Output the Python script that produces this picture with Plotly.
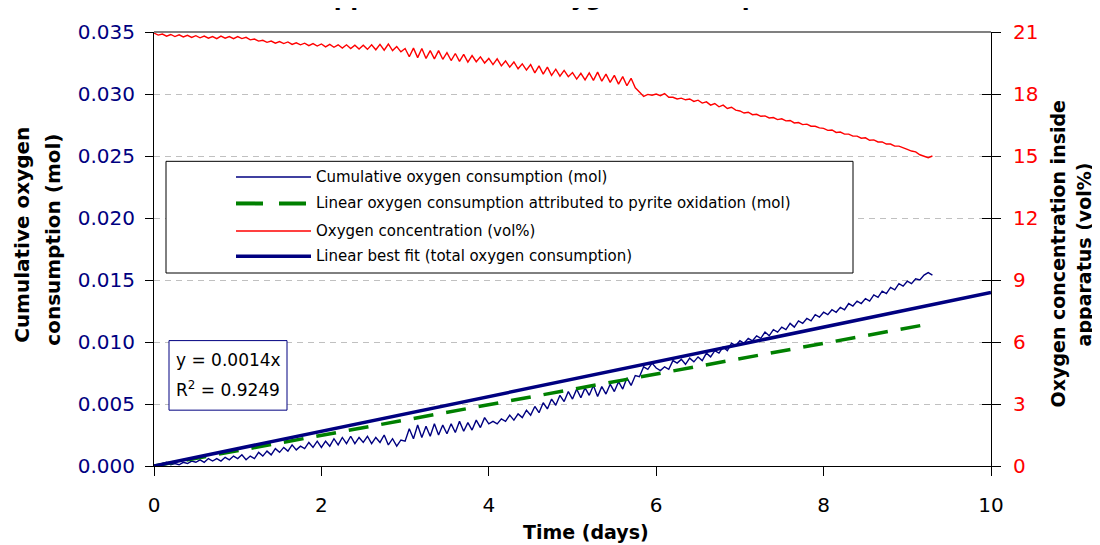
import plotly.graph_objects as go

# ---------------- data ----------------
sample_step_days = 0.05

cum_o2_mol = [
    0.0000, 0.0001, 0.0002, 0.0003, 0.0001, 0.0002, 0.0001, 0.0003, 0.0002, 0.0004,
    0.0003, 0.0005, 0.0003, 0.0006, 0.0004, 0.0006, 0.0004, 0.0007, 0.0005, 0.0008,
    0.0006, 0.0009, 0.0005, 0.0008, 0.0006, 0.0011, 0.0008, 0.0012, 0.0009, 0.0014,
    0.0011, 0.0015, 0.0012, 0.0017, 0.0013, 0.0016, 0.0014, 0.0019, 0.0015, 0.0020,
    0.0015, 0.0020, 0.0016, 0.0022, 0.0017, 0.0023, 0.0018, 0.0024, 0.0018, 0.0023,
    0.0019, 0.0024, 0.0018, 0.0023, 0.0019, 0.0025, 0.0017, 0.0022, 0.0016, 0.0021,
    0.0020, 0.0030, 0.0022, 0.0033, 0.0023, 0.0032, 0.0024, 0.0034, 0.0025, 0.0033,
    0.0026, 0.0034, 0.0027, 0.0036, 0.0028, 0.0035, 0.0029, 0.0037, 0.0031, 0.0039,
    0.0034, 0.0036, 0.0034, 0.0038, 0.0036, 0.0041, 0.0037, 0.0042, 0.0039, 0.0045,
    0.0041, 0.0048, 0.0043, 0.0051, 0.0046, 0.0054, 0.0049, 0.0057, 0.0052, 0.0060,
    0.0054, 0.0062, 0.0055, 0.0063, 0.0057, 0.0065, 0.0056, 0.0064, 0.0058, 0.0066,
    0.0060, 0.0068, 0.0062, 0.0071, 0.0065, 0.0073, 0.0072, 0.0080, 0.0078, 0.0083,
    0.0079, 0.0077, 0.0080, 0.0078, 0.0085, 0.0083, 0.0086, 0.0082, 0.0087, 0.0084,
    0.0088, 0.0085, 0.0091, 0.0088, 0.0093, 0.0091, 0.0096, 0.0093, 0.0099, 0.0097,
    0.0101, 0.0099, 0.0103, 0.0101, 0.0105, 0.0103, 0.0108, 0.0105, 0.0110, 0.0108,
    0.0112, 0.0110, 0.0115, 0.0112, 0.0117, 0.0115, 0.0119, 0.0117, 0.0122, 0.0120,
    0.0124, 0.0122, 0.0126, 0.0124, 0.0128, 0.0126, 0.0131, 0.0129, 0.0133, 0.0131,
    0.0135, 0.0133, 0.0138, 0.0136, 0.0141, 0.0139, 0.0144, 0.0142, 0.0147, 0.0145,
    0.0149, 0.0147, 0.0151, 0.0150, 0.0154, 0.0156, 0.0154,
]

o2_vol_pct = [
    20.95, 20.85, 20.90, 20.80, 20.88, 20.78, 20.86, 20.76, 20.84, 20.74,
    20.82, 20.72, 20.80, 20.70, 20.78, 20.68, 20.80, 20.70, 20.78, 20.68,
    20.78, 20.68, 20.74, 20.62, 20.66, 20.56, 20.60, 20.50, 20.56, 20.46,
    20.54, 20.44, 20.52, 20.40, 20.48, 20.38, 20.46, 20.34, 20.44, 20.32,
    20.42, 20.28, 20.40, 20.26, 20.38, 20.22, 20.38, 20.20, 20.36, 20.18,
    20.36, 20.16, 20.38, 20.14, 20.40, 20.12, 20.42, 20.10, 20.30, 20.04,
    20.20, 19.80, 20.22, 19.76, 20.20, 19.72, 20.10, 19.70, 20.10, 19.68,
    20.00, 19.62, 19.96, 19.58, 19.92, 19.54, 19.86, 19.56, 19.80, 19.50,
    19.72, 19.42, 19.70, 19.36, 19.60, 19.30, 19.55, 19.22, 19.46, 19.16,
    19.42, 19.02, 19.36, 18.96, 19.30, 18.90, 19.20, 18.86, 19.14, 18.84,
    19.04, 18.72, 19.00, 18.68, 19.02, 18.66, 19.06, 18.62, 18.96, 18.56,
    18.90, 18.48, 18.84, 18.40, 18.76, 18.30, 18.10, 17.88, 17.98, 17.94,
    18.00, 17.92, 18.02, 17.84, 17.84, 17.76, 17.80, 17.72, 17.76, 17.64,
    17.70, 17.56, 17.62, 17.46, 17.54, 17.38, 17.46, 17.30, 17.36, 17.22,
    17.18, 17.08, 17.12, 17.00, 17.02, 16.92, 16.94, 16.84, 16.86, 16.76,
    16.80, 16.70, 16.72, 16.60, 16.62, 16.52, 16.54, 16.44, 16.44, 16.36,
    16.34, 16.24, 16.26, 16.14, 16.16, 16.06, 16.06, 15.96, 15.96, 15.86,
    15.88, 15.76, 15.78, 15.68, 15.68, 15.58, 15.58, 15.48, 15.48, 15.38,
    15.32, 15.24, 15.20, 15.06, 15.00, 14.92, 15.00,
]

time_days = [round(i * sample_step_days, 2) for i in range(len(cum_o2_mol))]

pyrite_x = [0.0, 9.26]
pyrite_y = [0.0, 0.01145]

fit_slope = 0.0014
fit_r2 = 0.9249
fit_x = [0.0, 10.0]
fit_y = [fit_slope * v for v in fit_x]

x_ticks = [0, 2, 4, 6, 8, 10]
y_ticks = [0.000, 0.005, 0.010, 0.015, 0.020, 0.025, 0.030, 0.035]
y2_ticks = [0, 3, 6, 9, 12, 15, 18, 21]

series_names = [
    "Cumulative oxygen consumption (mol)",
    "Linear oxygen consumption attributed to pyrite oxidation (mol)",
    "Oxygen concentration (vol%)",
    "Linear best fit (total oxygen consumption)",
]
left_title_lines = ["Cumulative oxygen", "consumption (mol)"]
right_title_lines = ["Oxygen concentration inside", "apparatus (vol%)"]
x_title = "Time (days)"
chart_title = "Apparent rate of oxygen consumption"

NAVY = "#000080"
GREEN = "#008000"
RED = "#FF0000"
FONT = "DejaVu Sans"

# ---------------- layout geometry ----------------
# page pixel positions of the plot area; the page body adds an 8px offset
OFF = 8
W, H = 1100, 545
L, R, T, B = 154 - OFF, 991 - OFF, 23 - OFF, 466 - OFF


def px(X):
    """page x pixel -> paper x"""
    return (X - OFF - L) / (R - L)


def py(Y):
    """page y pixel -> paper y"""
    return (B - (Y - OFF)) / (B - T)


fig = go.Figure()

fig.add_trace(go.Scatter(x=time_days, y=cum_o2_mol, mode="lines", name=series_names[0],
                         line=dict(color=NAVY, width=1.4), showlegend=False))
fig.add_trace(go.Scatter(x=pyrite_x, y=pyrite_y, mode="lines", name=series_names[1],
                         line=dict(color=GREEN, width=3.5, dash="20px,13px"), showlegend=False))
fig.add_trace(go.Scatter(x=fit_x, y=fit_y, mode="lines", name=series_names[3],
                         line=dict(color=NAVY, width=3.5), showlegend=False))
fig.add_trace(go.Scatter(x=time_days, y=o2_vol_pct, mode="lines", name=series_names[2],
                         line=dict(color=RED, width=1.4), yaxis="y2", showlegend=False))
# helper trace so the inner tick set on the right axis is rendered
fig.add_trace(go.Scatter(x=[None], y=[None], yaxis="y3", showlegend=False, hoverinfo="skip"))

fig.update_layout(
    width=W, height=H,
    margin=dict(l=L, r=W - R, t=T, b=H - B, pad=0),
    paper_bgcolor="white", plot_bgcolor="white",
    showlegend=False,
    font=dict(family=FONT, color="black"),
    xaxis=dict(range=[0, 10], tickvals=x_ticks, ticks="outside", ticklen=9, tickcolor="black",
               showline=True, linecolor="black", linewidth=1, showgrid=False, zeroline=False,
               tickfont=dict(family=FONT, size=20, color="black"), ticklabelstandoff=12),
    yaxis=dict(range=[0, 0.035], tickvals=y_ticks, tickformat=".3f", ticks="outside", ticklen=8,
               tickcolor="black", showline=True, linecolor="black", linewidth=1,
               showgrid=True, gridcolor="#c0c0c0", griddash="6px,5px", gridwidth=1, zeroline=False,
               tickfont=dict(family=FONT, size=20, color=NAVY), ticklabelstandoff=6),
    yaxis2=dict(range=[0, 21], tickvals=y2_ticks, overlaying="y", side="right", anchor="x",
                ticks="outside", ticklen=9, tickcolor="black", showline=True, linecolor="black",
                linewidth=1, showgrid=False, zeroline=False,
                tickfont=dict(family=FONT, size=20, color=RED), ticklabelstandoff=8),
    yaxis3=dict(range=[0, 21], tickvals=y2_ticks, overlaying="y", side="right", anchor="x",
                ticks="inside", ticklen=9, tickcolor="black", showline=False, showgrid=False,
                zeroline=False, showticklabels=False),
)

shapes = []
annotations = []

# top plot-area border (grey)
shapes.append(dict(type="line", xref="paper", yref="paper", x0=0, x1=1, y0=1, y1=1,
                   line=dict(color="#808080", width=2), layer="above"))

# legend box
shapes.append(dict(type="rect", xref="paper", yref="paper", x0=px(166), x1=px(853),
                   y0=py(269), y1=py(155), line=dict(color="black", width=1),
                   fillcolor="white", layer="above"))
legend_rows = [171, 198, 226, 252]
legend_styles = [
    dict(color=NAVY, width=1.5),
    dict(color=GREEN, width=4, dash="27px,16px"),
    dict(color=RED, width=1.5),
    dict(color=NAVY, width=3.5),
]
for rowY, style, name in zip(legend_rows, legend_styles, series_names):
    shapes.append(dict(type="line", xref="paper", yref="paper", x0=px(236), x1=px(311),
                       y0=py(rowY), y1=py(rowY), line=style, layer="above"))
    annotations.append(dict(xref="paper", yref="paper", x=px(314), y=py(rowY), text=name,
                            showarrow=False, xanchor="left", yanchor="middle",
                            font=dict(family=FONT, size=15, color="black")))

# equation box
shapes.append(dict(type="rect", xref="paper", yref="paper", x0=px(169), x1=px(287),
                   y0=py(409), y1=py(338), line=dict(color=NAVY, width=1),
                   fillcolor="white", layer="above"))
annotations.append(dict(xref="paper", yref="paper", x=px(228), y=py(358),
                        text=f"y = {fit_slope}x", showarrow=False, xanchor="center",
                        yanchor="middle", font=dict(family=FONT, size=17, color="black")))
annotations.append(dict(xref="paper", yref="paper", x=px(228), y=py(387),
                        text=f"R<sup>2</sup> = {fit_r2}", showarrow=False, xanchor="center",
                        yanchor="middle", font=dict(family=FONT, size=17, color="black")))

# axis titles
annotations.append(dict(xref="paper", yref="paper", x=px(586), y=py(533),
                        text=f"<b>{x_title}</b>", showarrow=False, xanchor="center",
                        yanchor="middle", font=dict(family=FONT, size=19, color="black")))
for cx, cy, line in zip([22, 53], [230, 235], left_title_lines):
    annotations.append(dict(xref="paper", yref="paper", x=px(cx), y=py(cy),
                            text=f"<b>{line}</b>", showarrow=False, textangle=-90,
                            xanchor="center", yanchor="middle",
                            font=dict(family=FONT, size=20, color="black")))
for cx, cy, line in zip([1058, 1084], [250, 250], right_title_lines):
    annotations.append(dict(xref="paper", yref="paper", x=px(cx), y=py(cy),
                            text=f"<b>{line}</b>", showarrow=False, textangle=-90,
                            xanchor="center", yanchor="middle",
                            font=dict(family=FONT, size=19, color="black")))

# chart title (cut off at the top edge in the reference)
annotations.append(dict(xref="paper", yref="paper", x=px(562), y=py(3),
                        text=f"<b>{chart_title}</b>", showarrow=False,
                        xanchor="center", yanchor="bottom",
                        font=dict(family=FONT, size=23, color="black")))

fig.update_layout(shapes=shapes, annotations=annotations)

fig.write_html("out.html")
